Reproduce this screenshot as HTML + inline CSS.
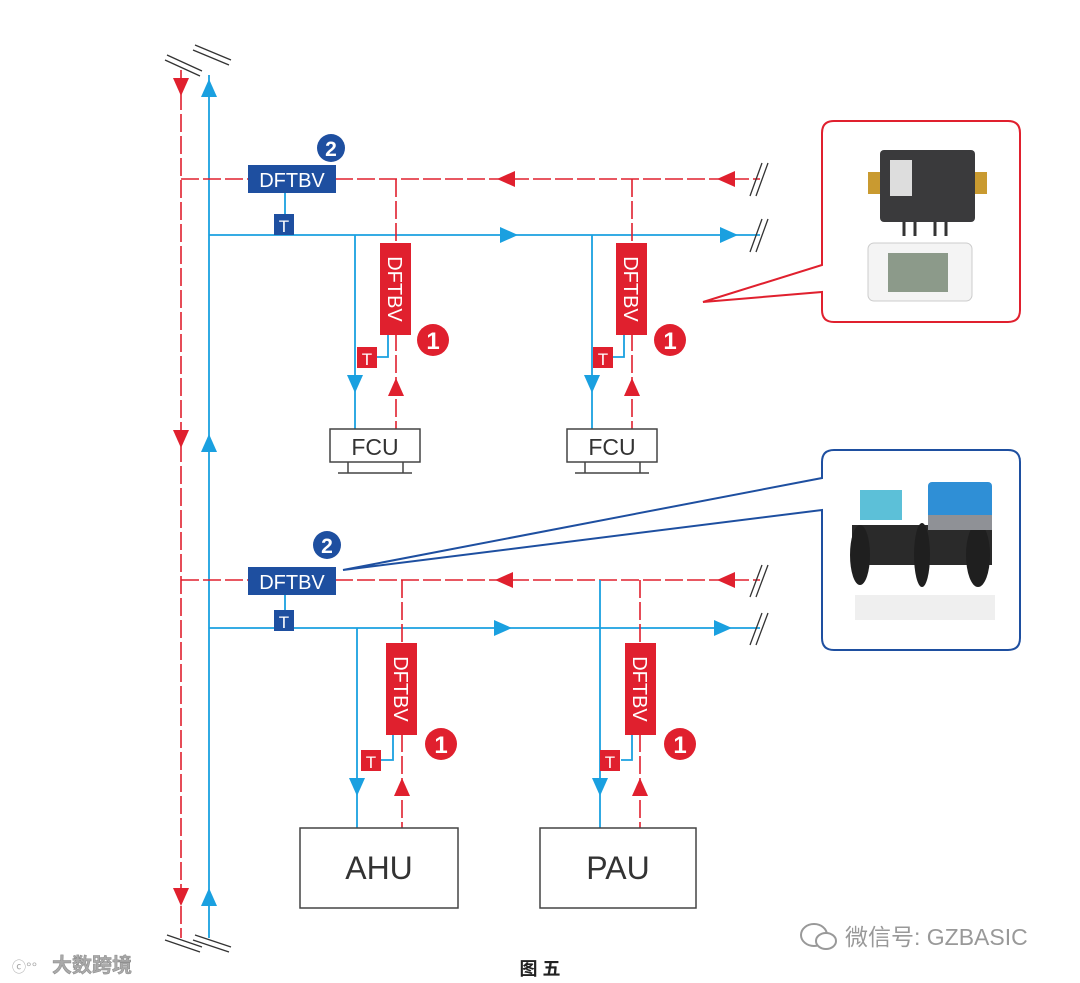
<!DOCTYPE html>
<html><head><meta charset="utf-8"><style>
body{margin:0;background:#fff;}
svg{display:block;font-family:"Liberation Sans","Noto Sans CJK SC",sans-serif;}
</style></head><body>
<svg width="1080" height="983" viewBox="0 0 1080 983" xmlns="http://www.w3.org/2000/svg">
<defs>
<style>
.r{stroke:#e0202e;stroke-width:1.6;fill:none;stroke-dasharray:18 4;}
.b{stroke:#1aa0e0;stroke-width:1.8;fill:none;}
.ra{fill:#e0202e;} .ba{fill:#1aa0e0;}
.brk{stroke:#333;stroke-width:1.3;fill:none;}
.lbl{fill:#fff;font-size:20px;}
</style>
</defs>
<line class="r" x1="181" y1="70" x2="181" y2="938"/>
<line class="b" x1="209" y1="75" x2="209" y2="938"/>
<polygon class="ra" points="173,78 189,78 181,96"/>
<polygon class="ra" points="173,430 189,430 181,448"/>
<polygon class="ra" points="173,888 189,888 181,906"/>
<polygon class="ba" points="201,97 217,97 209,79"/>
<polygon class="ba" points="201,452 217,452 209,434"/>
<polygon class="ba" points="201,906 217,906 209,888"/>
<path class="brk" d="M165,60 L200,76 M167,55 L202,71 M193,50 L229,65 M195,45 L231,60"/>
<path class="brk" d="M165,940 L200,952 M167,935 L202,947 M193,940 L229,952 M195,935 L231,947"/>

<line class="r" x1="181" y1="179" x2="760" y2="179"/>
<line class="b" x1="209" y1="235" x2="760" y2="235"/>
<polygon class="ra" points="497,179 515,171 515,187"/>
<polygon class="ra" points="717,179 735,171 735,187"/>
<polygon class="ba" points="518,235 500,227 500,243"/>
<polygon class="ba" points="738,235 720,227 720,243"/>
<path class="brk" d="M750,196 L762,163 M756,196 L768,163 M750,252 L762,219 M756,252 L768,219"/>
<line class="b" x1="285" y1="193" x2="285" y2="214"/>
<rect x="248" y="165" width="88" height="28" fill="#1e4fa0"/>
<text x="292" y="187" class="lbl" text-anchor="middle">DFTBV</text>
<rect x="274" y="214" width="20" height="21" fill="#1e4fa0"/>
<text x="284" y="232" fill="#fff" font-size="17" text-anchor="middle">T</text>
<circle cx="331" cy="148" r="14" fill="#1e4fa0"/>
<text x="331" y="156" fill="#fff" font-size="21" font-weight="bold" text-anchor="middle">2</text>

<line class="r" x1="396" y1="179" x2="396" y2="430"/>
<line class="b" x1="355" y1="235" x2="355" y2="430"/>
<polygon class="ba" points="347,375 363,375 355,393"/>
<polygon class="ra" points="388,396 404,396 396,378"/>
<polyline class="b" points="377,357 388,357 388,335"/>
<rect x="380" y="243" width="31" height="92" fill="#e0202e"/>
<text transform="translate(388,289) rotate(90)" class="lbl" text-anchor="middle">DFTBV</text>
<rect x="357" y="347" width="20" height="21" fill="#e0202e"/>
<text x="367" y="365" fill="#fff" font-size="17" text-anchor="middle">T</text>
<circle cx="433" cy="340" r="16" fill="#e0202e"/>
<text x="433" y="349" fill="#fff" font-size="24" font-weight="bold" text-anchor="middle">1</text>
<rect x="330" y="429" width="90" height="33" fill="#fff" stroke="#444" stroke-width="1.5"/>
<text x="375" y="455" fill="#333" font-size="23" text-anchor="middle">FCU</text>
<path d="M348,462 V473 M403,462 V473 M338,473 H412" stroke="#444" stroke-width="1.5" fill="none"/>

<line class="r" x1="632" y1="179" x2="632" y2="430"/>
<line class="b" x1="592" y1="235" x2="592" y2="430"/>
<polygon class="ba" points="584,375 600,375 592,393"/>
<polygon class="ra" points="624,396 640,396 632,378"/>
<polyline class="b" points="613,357 624,357 624,335"/>
<rect x="616" y="243" width="31" height="92" fill="#e0202e"/>
<text transform="translate(624,289) rotate(90)" class="lbl" text-anchor="middle">DFTBV</text>
<rect x="593" y="347" width="20" height="21" fill="#e0202e"/>
<text x="603" y="365" fill="#fff" font-size="17" text-anchor="middle">T</text>
<circle cx="670" cy="340" r="16" fill="#e0202e"/>
<text x="670" y="349" fill="#fff" font-size="24" font-weight="bold" text-anchor="middle">1</text>
<rect x="567" y="429" width="90" height="33" fill="#fff" stroke="#444" stroke-width="1.5"/>
<text x="612" y="455" fill="#333" font-size="23" text-anchor="middle">FCU</text>
<path d="M585,462 V473 M640,462 V473 M575,473 H649" stroke="#444" stroke-width="1.5" fill="none"/>

<line class="r" x1="181" y1="580" x2="760" y2="580"/>
<line class="b" x1="209" y1="628" x2="760" y2="628"/>
<polygon class="ra" points="495,580 513,572 513,588"/>
<polygon class="ra" points="717,580 735,572 735,588"/>
<polygon class="ba" points="512,628 494,620 494,636"/>
<polygon class="ba" points="732,628 714,620 714,636"/>
<path class="brk" d="M750,597 L762,565 M756,597 L768,565 M750,645 L762,613 M756,645 L768,613"/>
<line class="b" x1="285" y1="595" x2="285" y2="611"/>
<rect x="248" y="567" width="88" height="28" fill="#1e4fa0"/>
<text x="292" y="589" class="lbl" text-anchor="middle">DFTBV</text>
<rect x="274" y="610" width="20" height="21" fill="#1e4fa0"/>
<text x="284" y="628" fill="#fff" font-size="17" text-anchor="middle">T</text>
<circle cx="327" cy="545" r="14" fill="#1e4fa0"/>
<text x="327" y="553" fill="#fff" font-size="21" font-weight="bold" text-anchor="middle">2</text>

<line class="r" x1="402" y1="580" x2="402" y2="828"/>
<line class="b" x1="357" y1="628" x2="357" y2="828"/>
<polygon class="ba" points="349,778 365,778 357,796"/>
<polygon class="ra" points="394,796 410,796 402,778"/>
<polyline class="b" points="381,760 393,760 393,735"/>
<rect x="386" y="643" width="31" height="92" fill="#e0202e"/>
<text transform="translate(394,689) rotate(90)" class="lbl" text-anchor="middle">DFTBV</text>
<rect x="361" y="750" width="20" height="21" fill="#e0202e"/>
<text x="371" y="768" fill="#fff" font-size="17" text-anchor="middle">T</text>
<circle cx="441" cy="744" r="16" fill="#e0202e"/>
<text x="441" y="753" fill="#fff" font-size="24" font-weight="bold" text-anchor="middle">1</text>
<rect x="300" y="828" width="158" height="80" fill="#fff" stroke="#444" stroke-width="1.5"/>
<text x="379" y="879" fill="#333" font-size="32" text-anchor="middle">AHU</text>

<line class="r" x1="640" y1="580" x2="640" y2="828"/>
<line class="b" x1="600" y1="580" x2="600" y2="828"/>
<polygon class="ba" points="592,778 608,778 600,796"/>
<polygon class="ra" points="632,796 648,796 640,778"/>
<polyline class="b" points="621,760 632,760 632,735"/>
<rect x="625" y="643" width="31" height="92" fill="#e0202e"/>
<text transform="translate(633,689) rotate(90)" class="lbl" text-anchor="middle">DFTBV</text>
<rect x="600" y="750" width="20" height="21" fill="#e0202e"/>
<text x="610" y="768" fill="#fff" font-size="17" text-anchor="middle">T</text>
<circle cx="680" cy="744" r="16" fill="#e0202e"/>
<text x="680" y="753" fill="#fff" font-size="24" font-weight="bold" text-anchor="middle">1</text>
<rect x="540" y="828" width="156" height="80" fill="#fff" stroke="#444" stroke-width="1.5"/>
<text x="618" y="879" fill="#333" font-size="32" text-anchor="middle">PAU</text>

<path d="M834,121 H1008 Q1020,121 1020,133 V310 Q1020,322 1008,322 H834 Q822,322 822,310 V292 L703,302 L822,265 V133 Q822,121 834,121 Z" fill="#fff" stroke="#e0202e" stroke-width="2"/>
<rect x="880" y="150" width="95" height="72" rx="4" fill="#3a3a3c"/>
<rect x="890" y="160" width="22" height="36" fill="#ddd"/>
<rect x="868" y="172" width="12" height="22" fill="#c99a30"/>
<rect x="975" y="172" width="12" height="22" fill="#c99a30"/>
<path d="M904,222 v14 M915,222 v14 M935,222 v14 M946,222 v14" stroke="#333" stroke-width="3"/>
<rect x="868" y="243" width="104" height="58" rx="6" fill="#f4f4f4" stroke="#ccc"/>
<rect x="888" y="253" width="60" height="39" fill="#8c9a8a"/>
<path d="M834,450 H1008 Q1020,450 1020,462 V638 Q1020,650 1008,650 H834 Q822,650 822,638 V510 L343,570 L822,478 V462 Q822,450 834,450 Z" fill="#fff" stroke="#1e4fa0" stroke-width="2"/>
<rect x="852" y="525" width="140" height="40" fill="#2a2a2a"/>
<ellipse cx="860" cy="555" rx="10" ry="30" fill="#1f1f1f"/>
<ellipse cx="922" cy="555" rx="8" ry="32" fill="#1f1f1f"/>
<ellipse cx="978" cy="555" rx="12" ry="32" fill="#1f1f1f"/>
<rect x="860" y="490" width="42" height="30" fill="#5cc0d8"/>
<rect x="928" y="482" width="64" height="40" rx="4" fill="#2f8fd6"/>
<rect x="928" y="515" width="64" height="15" fill="#8f9196"/>
<rect x="855" y="595" width="140" height="25" fill="#efefef"/>

<text x="845" y="945" fill="#999" font-size="23">微信号: GZBASIC</text>
<ellipse cx="814" cy="935" rx="13" ry="11" fill="none" stroke="#999" stroke-width="2"/>
<ellipse cx="826" cy="941" rx="10" ry="8" fill="#fff" stroke="#999" stroke-width="2"/>
<text x="12" y="972" fill="#aaa" font-size="14">ⓒ°°</text>
<text x="52" y="972" fill="#aaa" font-size="20" font-weight="bold" stroke="#888" stroke-width="0.5">大数跨境</text>
<text x="540" y="975" fill="#222" font-size="18" font-weight="bold" text-anchor="middle">图 五</text>
</svg>
</body></html>
